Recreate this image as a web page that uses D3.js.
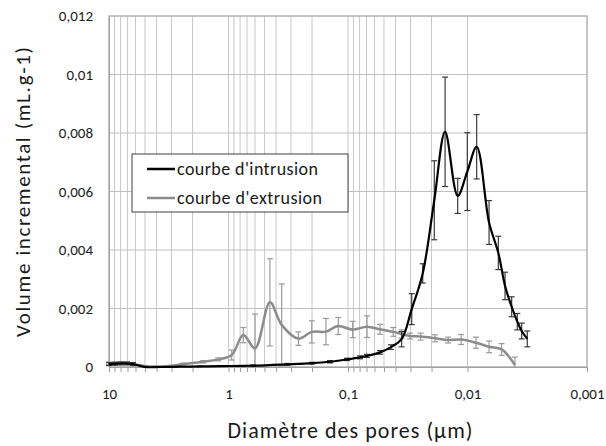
<!DOCTYPE html>
<html>
<head>
<meta charset="utf-8">
<script src="https://cdn.jsdelivr.net/npm/d3@7"></script>
<style>
  body { margin: 0; background: #fff; }
  text { font-family: Carlito, Lato, "Liberation Sans", sans-serif; fill: #1a1a1a; }
</style>
</head>
<body>
<svg id="chart" width="606" height="446"></svg>
<script>
// pore diameter (µm), incremental volume (mL/g), error (mL/g)
const intrusionDiam = [10, 8.91, 7.94, 7.07, 6.3, 5.0, 3.74, 2.55, 1.73, 1.18, 0.624, 0.324, 0.2, 0.1415, 0.102, 0.0794, 0.0693, 0.054, 0.0437, 0.0356, 0.0293, 0.0237, 0.01896, 0.0154, 0.01208, 0.01004, 0.00838, 0.0066, 0.00552, 0.00485, 0.00427, 0.00383, 0.00352, 0.00316];
const intrusionVol = [0.00010, 0.00011, 0.00012, 0.00012, 0.00010, 0.00000, 0.00000, 0.00001, 0.00002, 0.00003, 0.000045, 0.00009, 0.00013, 0.00018, 0.00026, 0.00033, 0.00038, 0.00050, 0.00068, 0.00095, 0.00198, 0.00320, 0.00570, 0.00804, 0.00585, 0.00668, 0.00753, 0.00494, 0.00390, 0.00277, 0.00206, 0.00155, 0.00123, 0.00096];
const intrusionErr = [0.00005, 0.00005, 0.00005, 0.00005, 0.00005, 0.00002, 0.00001, 0.00001, 0.00001, 0.00001, 0.00002, 0.00003, 0.00003, 0.00004, 0.00004, 0.00005, 0.00005, 0.00006, 0.00008, 0.00026, 0.00053, 0.00033, 0.00135, 0.00187, 0.00060, 0.00133, 0.00110, 0.00075, 0.00057, 0.00047, 0.00034, 0.00028, 0.00027, 0.00027];

const extrusionDiam = [10, 8.91, 7.94, 7.07, 6.3, 5.0, 3.29, 2.39, 1.63, 1.22, 0.94, 0.752, 0.60, 0.45, 0.359, 0.26, 0.201, 0.153, 0.1206, 0.0914, 0.0693, 0.054, 0.0418, 0.0356, 0.0303, 0.0247, 0.0187, 0.0145, 0.0113, 0.0085, 0.0066, 0.00518, 0.00401];
const extrusionVol = [0.00013, 0.00013, 0.00014, 0.00013, 0.00010, 0.00003, 0.00003, 0.00010, 0.00018, 0.00026, 0.00041, 0.00109, 0.00064, 0.00221, 0.00144, 0.00097, 0.00120, 0.00121, 0.00140, 0.00128, 0.00138, 0.00129, 0.00120, 0.00113, 0.00106, 0.00104, 0.00098, 0.00092, 0.00094, 0.00083, 0.00069, 0.00060, 0.00007];
const extrusionErr = [0.00004, 0.00004, 0.00004, 0.00004, 0.00003, 0.00002, 0.00002, 0.00003, 0.00004, 0.00005, 0.00017, 0.00026, 0.00117, 0.00149, 0.00140, 0.00023, 0.00038, 0.00045, 0.00029, 0.00028, 0.00037, 0.00017, 0.00015, 0.00014, 0.00010, 0.00012, 0.00012, 0.00010, 0.00017, 0.00019, 0.00020, 0.00020, 0.00027];

const xMajor = [10, 1, 0.1, 0.01, 0.001];
const xMajorLabels = ["10", "1", "0,1", "0,01", "0,001"];
const yTicks = [0, 0.002, 0.004, 0.006, 0.008, 0.01, 0.012];
const yTickLabels = ["0", "0,002", "0,004", "0,006", "0,008", "0,01", "0,012"];
const seriesNames = ["courbe d'intrusion", "courbe d'extrusion"];

const width = 606, height = 446;
const margin = { top: 16, right: 19, bottom: 79, left: 109 };
const innerW = width - margin.left - margin.right;
const innerH = height - margin.top - margin.bottom;

const svg = d3.select("#chart");
const g = svg.append("g").attr("transform", `translate(${margin.left},${margin.top})`);

const x = d3.scaleLog().domain([10, 0.001]).range([0, innerW]);
const y = d3.scaleLinear().domain([0, 0.012]).range([innerH, 0]);

// major + minor positions of the log grid (each decade: 1..9 x 10^e)
const xGrid = [10];
for (let e = 0; e >= -3; e--) {
    for (let k = 9; k >= 1; k--) {
        if (e === -3 && k > 1) continue;
        xGrid.push(+(k * Math.pow(10, e)).toPrecision(3));
    }
}

g.append("g")
    .selectAll("line")
    .data(xGrid)
    .join("line")
    .attr("x1", d => x(d)).attr("x2", d => x(d))
    .attr("y1", 0).attr("y2", innerH)
    .attr("stroke", "#c8c8c8")
    .attr("stroke-width", 1);

g.append("g")
    .selectAll("line")
    .data(yTicks)
    .join("line")
    .attr("x1", 0).attr("x2", innerW)
    .attr("y1", d => y(d)).attr("y2", d => y(d))
    .attr("stroke", "#c0c0c0")
    .attr("stroke-width", 1);

// bottom axis with minor tick marks
const xAxis = d3.axisBottom(x)
    .tickValues(xGrid)
    .tickSize(5)
    .tickFormat(d => {
        const i = xMajor.findIndex(m => Math.abs(m - d) / m < 1e-6);
        return i >= 0 ? xMajorLabels[i] : "";
    });

const xg = g.append("g")
    .attr("transform", `translate(0,${innerH})`)
    .call(xAxis);
xg.select(".domain").attr("stroke", "#9a9a9a");
xg.selectAll(".tick line").attr("stroke", "#9a9a9a");
xg.selectAll(".tick text")
    .attr("y", 21)
    .attr("font-size", 15)
    .attr("font-family", "Carlito, Lato, 'Liberation Sans', sans-serif")
    .attr("fill", "#1a1a1a");

const yAxis = d3.axisLeft(y)
    .tickValues(yTicks)
    .tickSize(0)
    .tickPadding(16)
    .tickFormat((d, i) => yTickLabels[i]);

const yg = g.append("g").call(yAxis);
yg.select(".domain").attr("stroke", "#9a9a9a");
yg.selectAll(".tick text")
    .attr("font-size", 15)
    .attr("font-family", "Carlito, Lato, 'Liberation Sans', sans-serif")
    .attr("fill", "#1a1a1a");

// plot frame
g.append("rect")
    .attr("x", 0).attr("y", 0)
    .attr("width", innerW).attr("height", innerH)
    .attr("fill", "none")
    .attr("stroke", "#a8a8a8");

function drawSeries(diam, vol, err, color, barColor, lw) {
    const pts = diam.map((d, i) => ({ d: d, v: vol[i], e: err[i] }));

    const bars = g.append("g")
        .attr("stroke", barColor)
        .attr("stroke-width", 1.2);
    pts.forEach(p => {
        const x0 = x(p.d);
        const yTop = y(Math.min(p.v + p.e, 0.012));
        const yBot = y(Math.max(p.v - p.e, 0));
        bars.append("line").attr("x1", x0).attr("x2", x0).attr("y1", yTop).attr("y2", yBot);
        bars.append("line").attr("x1", x0 - 3).attr("x2", x0 + 3).attr("y1", yTop).attr("y2", yTop);
        if (p.v - p.e > 0) {
            bars.append("line").attr("x1", x0 - 3).attr("x2", x0 + 3).attr("y1", yBot).attr("y2", yBot);
        }
    });

    const line = d3.line()
        .x(p => x(p.d))
        .y(p => y(p.v))
        .curve(d3.curveCatmullRom.alpha(0.5));

    g.append("path")
        .datum(pts)
        .attr("d", line)
        .attr("fill", "none")
        .attr("stroke", color)
        .attr("stroke-width", lw)
        .attr("stroke-linejoin", "round");
}

drawSeries(extrusionDiam, extrusionVol, extrusionErr, "#8c8c8c", "#9a9a9a", 2.5);
drawSeries(intrusionDiam, intrusionVol, intrusionErr, "#000000", "#3a3a3a", 2.2);

// axis titles
svg.append("text")
    .attr("x", 350).attr("y", 438)
    .attr("text-anchor", "middle")
    .attr("font-size", 22)
    .attr("textLength", 245)
    .attr("lengthAdjust", "spacing")
    .text("Diamètre des pores (µm)");

svg.append("text")
    .attr("transform", "translate(30,192) rotate(-90)")
    .attr("text-anchor", "middle")
    .attr("font-size", 21)
    .attr("textLength", 290)
    .attr("lengthAdjust", "spacing")
    .text("Volume incremental  (mL.g-1)");

// legend
const legend = svg.append("g").attr("transform", "translate(132,154)");
legend.append("rect")
    .attr("width", 216).attr("height", 58)
    .attr("fill", "#fff")
    .attr("stroke", "#404040")
    .attr("stroke-width", 1);

const legendColors = ["#000000", "#8c8c8c"];
seriesNames.forEach((name, i) => {
    const ly = 15 + i * 29;
    legend.append("line")
        .attr("x1", 15).attr("x2", 43)
        .attr("y1", ly).attr("y2", ly)
        .attr("stroke", legendColors[i])
        .attr("stroke-width", 2.5);
    legend.append("text")
        .attr("x", 45).attr("y", ly + 6)
        .attr("font-size", 18)
        .attr("textLength", i === 0 ? 141 : 145)
        .attr("lengthAdjust", "spacing")
        .text(name);
});
</script>
</body>
</html>
